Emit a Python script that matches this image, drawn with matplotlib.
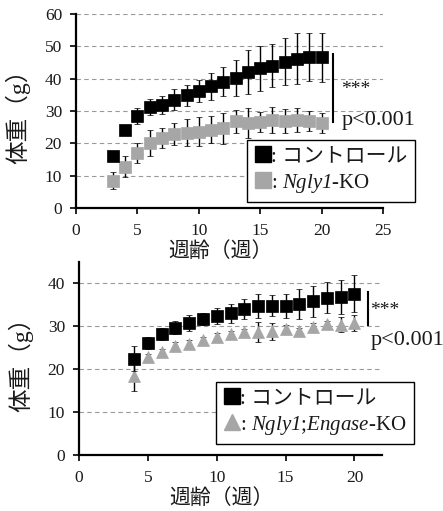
import matplotlib
matplotlib.use("Agg")
import matplotlib.pyplot as plt
from matplotlib.lines import Line2D

plt.rcParams['font.family'] = ['Liberation Serif', 'Noto Sans CJK JP']
plt.rcParams['mathtext.fontset'] = 'custom'
plt.rcParams['mathtext.rm'] = 'Liberation Serif:italic'
plt.rcParams['mathtext.it'] = 'Liberation Serif:italic'

# ---- data: top panel (Ngly1-KO) ----
weeks_top = [3, 4, 5, 6, 7, 8, 9, 10, 11, 12, 13, 14, 15, 16, 17, 18, 19, 20]
ctrl_top = [16.0, 24.0, 28.5, 31.2, 31.8, 33.5, 34.8, 36.2, 37.6, 39.0, 40.2, 42.0, 43.2, 44.0, 45.3, 46.2, 46.6, 46.6]
ctrl_top_err = [1.2, 1.4, 2.5, 2.4, 2.7, 3.2, 3.3, 3.5, 4.3, 4.5, 5.5, 6.8, 7.0, 6.6, 7.3, 7.8, 7.4, 7.6]
ko_top = [8.5, 12.8, 17.0, 20.0, 21.6, 22.8, 23.3, 23.6, 24.2, 24.6, 26.8, 26.2, 26.6, 27.2, 26.9, 27.1, 26.8, 26.2]
ko_top_err = [2.6, 3.3, 3.2, 4.0, 3.0, 3.4, 4.1, 4.5, 4.2, 4.8, 3.5, 4.6, 3.2, 4.1, 3.6, 3.7, 3.1, 3.1]

# ---- data: bottom panel (Ngly1;Engase-KO) ----
weeks_bot = [4, 5, 6, 7, 8, 9, 10, 11, 12, 13, 14, 15, 16, 17, 18, 19, 20]
ctrl_bot = [22.5, 26.0, 28.2, 29.7, 30.8, 31.6, 32.4, 33.0, 34.1, 34.8, 34.8, 34.8, 35.3, 35.8, 36.7, 36.9, 37.6]
ctrl_bot_err = [2.8, 1.4, 1.5, 1.6, 1.9, 1.4, 1.8, 2.2, 2.3, 2.8, 2.5, 2.8, 3.5, 3.6, 3.6, 4.0, 4.3]
ko_bot = [18.4, 22.8, 24.1, 25.3, 25.9, 26.8, 27.6, 28.1, 28.6, 28.6, 28.8, 29.4, 29.0, 29.9, 30.6, 30.4, 30.8]
ko_bot_err = [3.4, 0.8, 0.6, 1.0, 1.0, 0.8, 0.8, 0.9, 0.8, 2.3, 2.0, 1.0, 0.6, 0.9, 0.6, 1.8, 1.9]

ctrl_label = ': コントロール'
ko_top_label = r': $\mathrm{Ngly1}$-KO'
ko_bot_label = r': $\mathrm{Ngly1}$;$\mathrm{Engase}$-KO'
ylabel = '体重（g）'
xlabel = '週齢（週）'

BLACK = '#000000'
GRAY = '#a6a6a6'
TXT = '#1a1a1a'

fig = plt.figure(figsize=(4.43, 5.11), dpi=100)
ax1 = fig.add_axes([76/443, 1 - 208/511, 307/443, 194/511])
ax2 = fig.add_axes([79/443, 1 - 455/511, 303/443, 193/511])


def style(ax, xlim, ylim, yticks, xticks):
    ax.set_xlim(*xlim)
    ax.set_ylim(*ylim)
    ax.set_xticks(xticks)
    ax.set_yticks(yticks)
    for s in ['top', 'right']:
        ax.spines[s].set_visible(False)
    for s in ['left', 'bottom']:
        ax.spines[s].set_linewidth(1.6)
        ax.spines[s].set_color('black')
    ax.tick_params(direction='out', length=4, width=1.2, labelsize=12.5, colors='black',
                   labelcolor=TXT)
    ax.tick_params(axis='y', pad=6)
    ax.tick_params(axis='x', pad=7)
    for y in yticks:
        if y > 0:
            ax.axhline(y, color='#9a9a9a', lw=0.8, ls=(0, (4, 3)), zorder=0)


style(ax1, (0, 25), (0, 60), [0, 10, 20, 30, 40, 50, 60], [0, 5, 10, 15, 20, 25])
style(ax2, (0, 22), (0, 45), [0, 10, 20, 30, 40], [0, 5, 10, 15, 20])

eb = dict(elinewidth=1.0, capsize=2.5, capthick=1.0, ecolor=BLACK, linestyle='none', mew=0.5)
ax1.errorbar(weeks_top, ko_top, yerr=ko_top_err, fmt='s', ms=8, mfc=GRAY, mec=GRAY, zorder=3, **eb)
ax1.errorbar(weeks_top, ctrl_top, yerr=ctrl_top_err, fmt='s', ms=8, mfc=BLACK, mec=BLACK, zorder=4, **eb)
ax2.errorbar(weeks_bot, ko_bot, yerr=ko_bot_err, fmt='^', ms=8.5, mfc=GRAY, mec=GRAY, zorder=3, **eb)
ax2.errorbar(weeks_bot, ctrl_bot, yerr=ctrl_bot_err, fmt='s', ms=8, mfc=BLACK, mec=BLACK, zorder=4, **eb)

# significance brackets
ax1.plot([20.9, 20.9], [26.5, 47.6], color='black', lw=1.5, clip_on=False)
ax1.text(21.6, 36.5, '***', fontsize=14, color=TXT, va='center', ha='left', clip_on=False)
ax1.text(21.6, 27.2, 'p<0.001', fontsize=16, color=TXT, va='center', ha='left', clip_on=False)
ax2.plot([21.0, 21.0], [30.2, 38.0], color='black', lw=1.5, clip_on=False)
ax2.text(21.15, 33.8, '***', fontsize=14, color=TXT, va='center', ha='left', clip_on=False)
ax2.text(21.15, 26.7, 'p<0.001', fontsize=16, color=TXT, va='center', ha='left', clip_on=False)

for ax in (ax1, ax2):
    ax.set_ylabel(ylabel, fontsize=17, color=TXT)
    ax.yaxis.set_label_coords(-0.15, 0.5)
    ax.set_xlabel(xlabel, fontsize=15, color=TXT)
    ax.xaxis.set_label_coords(0.47, -0.178)


def make_legend(ax, ko_label, ko_marker, anchor):
    handles = [
        Line2D([], [], marker='s', ls='none', ms=12, mfc=BLACK, mec=BLACK),
        Line2D([], [], marker=ko_marker, ls='none', ms=12, mfc=GRAY, mec=GRAY),
    ]
    leg = ax.legend(handles, [ctrl_label, ko_label], loc='lower left', bbox_to_anchor=anchor,
                    borderaxespad=0, frameon=True, fancybox=False, framealpha=1,
                    edgecolor='black', fontsize=15, handlelength=0.8, handletextpad=0.0,
                    borderpad=0.35, labelspacing=0.25)
    leg.get_frame().set_linewidth(1.0)
    for t in leg.get_texts():
        t.set_color(TXT)
    leg.set_zorder(10)
    return leg


make_legend(ax1, ko_top_label, 's', (0.557, 0.031))
make_legend(ax2, ko_bot_label, '^', (0.452, 0.057))

fig.savefig('out.png', dpi=100)
